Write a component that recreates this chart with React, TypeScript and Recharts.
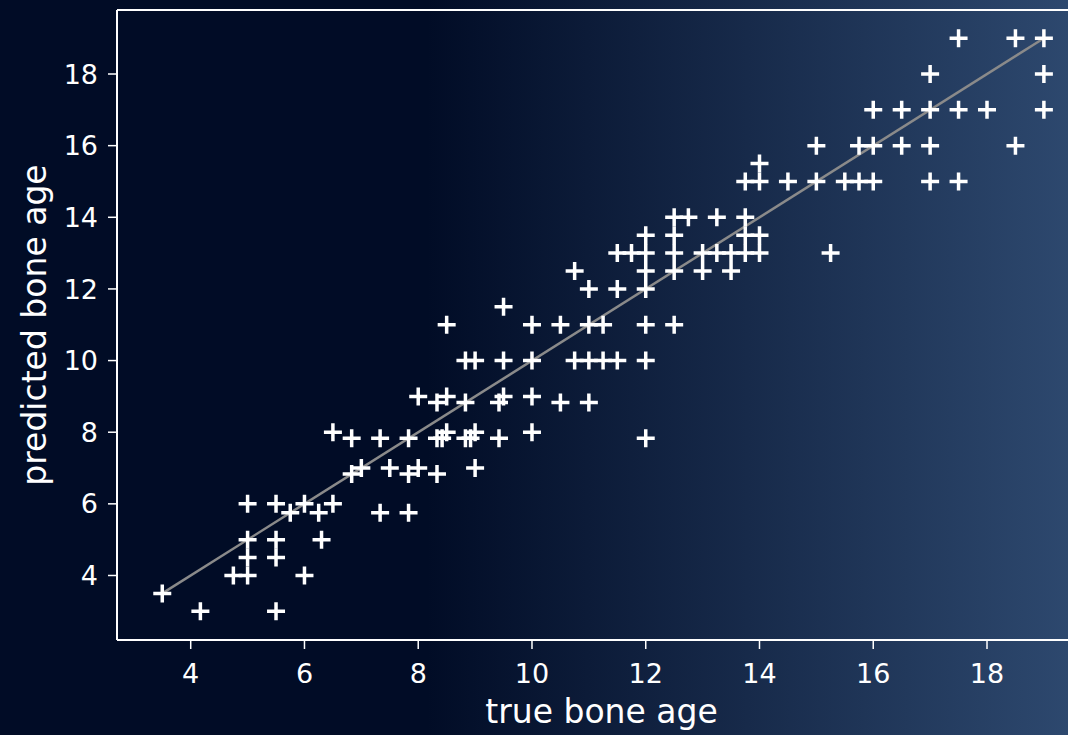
import { Label, ReferenceLine, Scatter, ScatterChart, XAxis, YAxis } from "recharts";

// true vs predicted bone age
const trueAge = [
	3.5, 4.17, 5.5, 4.75, 5, 5, 5, 5.5, 5.5, 6, 6.3, 5, 5.5, 5.75, 6, 6.25, 6.5, 6.83, 7, 7.33,
	7.83, 6.5, 6.83, 7.33, 7.83, 8.33, 8.42, 8.5, 8.83, 8.92, 9, 9.42, 10, 12, 7.5, 7.83, 8, 8.33,
	9, 8, 8.33, 8.5, 8.83, 9.42, 9.5, 10, 10.5, 11, 8.83, 9, 9.5, 10, 10.75, 11, 11.25, 11.5, 12,
	8.5, 9.5, 10, 10.5, 11, 11.25, 12, 12.5, 10.75, 11, 11.5, 12, 12, 11.5, 11.75, 12, 12, 12.5,
	12.5, 12.5, 12.5, 12.75, 13.25, 13.75, 13.75, 14, 13, 13.25, 13.5, 13.75, 14, 13, 13.5, 15.25,
	13.75, 14, 14, 14.5, 15, 15.5, 15.75, 16, 17, 17.5, 15, 15.75, 16, 16.5, 17, 18.5, 16, 16.5,
	17, 17.5, 18, 19, 17, 19, 17.5, 18.5, 19,
];
const predictedAge = [
	3.5, 3, 3, 4, 4, 4.5, 5, 4.5, 5, 4, 5, 6, 6, 5.75, 6, 5.75, 6, 6.83, 7, 5.75,
	5.75, 8, 7.83, 7.83, 7.83, 7.83, 7.83, 8, 7.83, 7.83, 8, 7.83, 8, 7.83, 7, 6.83, 7, 6.83,
	7, 9, 8.83, 9, 8.83, 8.83, 9, 9, 8.83, 8.83, 10, 10, 10, 10, 10, 10, 10, 10, 10,
	11, 11.5, 11, 11, 11, 11, 11, 11, 12.5, 12, 12, 12, 12.5, 13, 13, 13, 13.5, 12.5,
	13, 13.5, 14, 14, 14, 14, 13.5, 13.5, 13, 13, 13, 13, 13, 12.5, 12.5, 13,
	15, 15, 15.5, 15, 15, 15, 15, 15, 15, 15, 16, 16, 16, 16, 16, 16, 17, 17,
	17, 17, 17, 17, 18, 18, 19, 19, 19,
];
const fitLine = [3.5, 19];
const xTicks = [4, 6, 8, 10, 12, 14, 16, 18];
const yTicks = [4, 6, 8, 10, 12, 14, 16, 18];
const xDomain = [2.704, 19.424];
const yDomain = [2.199, 19.787];

const points = trueAge.map((x, i) => ({ x, y: predictedAge[i] }));

const font = "'DejaVu Sans', sans-serif";
const tickStyle = { fill: "#ffffff", fontSize: 27, fontFamily: font };

const Plus = (props: any) => {
	const { cx, cy } = props;
	if (cx == null || cy == null) return null;
	return (
		<path
			d={`M${cx - 9},${cy}h18M${cx},${cy - 9}v18`}
			stroke="#ffffff"
			strokeWidth={3.5}
			fill="none"
		/>
	);
};

export default function App() {
	return (
		<div
			style={{
				position: "absolute",
				left: 0,
				top: 0,
				width: 1068,
				height: 735,
				overflow: "hidden",
				background: "linear-gradient(to right, #010c26 0%, #010c26 40%, #2d486e 100%)",
			}}
		>
			<ScatterChart width={1068} height={735} margin={{ top: 10, right: 0, bottom: 0, left: 0 }}>
				<XAxis
					type="number"
					dataKey="x"
					domain={xDomain}
					ticks={xTicks}
					height={95}
					stroke="#ffffff"
					axisLine={{ stroke: "#ffffff", strokeWidth: 2 }}
					tickLine={{ stroke: "#ffffff", strokeWidth: 1.5 }}
					tickSize={9}
					tickMargin={15}
					tick={tickStyle}
				>
					<Label
						value="true bone age"
						position="insideBottom"
						offset={12}
						dx={9}
						fill="#ffffff"
						fontSize={33}
						fontFamily={font}
					/>
				</XAxis>
				<YAxis
					type="number"
					dataKey="y"
					domain={yDomain}
					ticks={yTicks}
					width={117}
					axisLine={{ stroke: "#ffffff", strokeWidth: 2 }}
					tickLine={{ stroke: "#ffffff", strokeWidth: 1.5 }}
					tickSize={9}
					tickMargin={10}
					tick={tickStyle}
				>
					<Label
						value="predicted bone age"
						angle={-90}
						position="insideLeft"
						offset={34}
						fill="#ffffff"
						fontSize={33}
						fontFamily={font}
						style={{ textAnchor: "middle" }}
					/>
				</YAxis>
				<ReferenceLine y={yDomain[1]} stroke="#ffffff" strokeWidth={2} />
				<Scatter data={points} shape={Plus} isAnimationActive={false} />
				<ReferenceLine
					segment={[
						{ x: fitLine[0], y: fitLine[0] },
						{ x: fitLine[1], y: fitLine[1] },
					]}
					stroke="#8a8a8a"
					strokeWidth={2.5}
				/>
			</ScatterChart>
		</div>
	);
}
